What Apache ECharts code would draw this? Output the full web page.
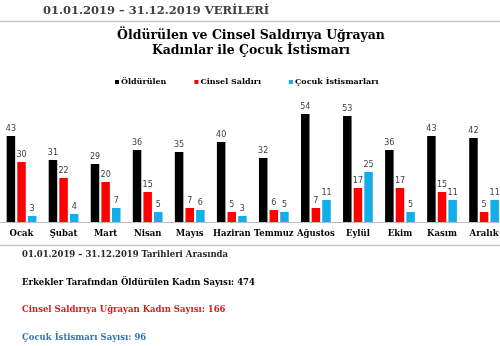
<!DOCTYPE html>
<html><head><meta charset="utf-8">
<script src="https://cdn.jsdelivr.net/npm/echarts@6/dist/echarts.min.js"></script>
<style>html,body{margin:0;padding:0;background:#fff;overflow:hidden;width:500px;height:346px}#c{width:506px;height:346px}</style>
</head><body><div id="c"></div>
<script>
const categories = ['Ocak','Şubat','Mart','Nisan','Mayıs','Haziran','Temmuz','Ağustos','Eylül','Ekim','Kasım','Aralık'];
const olduruler = [43,31,29,36,35,40,32,54,53,36,43,42];
const cinsel = [30,22,20,15,7,5,6,7,17,17,15,5];
const cocuk = [3,4,7,5,6,3,5,11,25,5,11,11];
const serif = '"DejaVu Serif", serif';
const chart = echarts.init(document.getElementById('c'));
const lbl = {show:true, position:'top', distance:3, color:'#404040', fontSize:8, fontFamily:'"DejaVu Sans", sans-serif'};
function txt(t, x, y, size, color, align){
  return {type:'text', x:x, y:y, style:{text:t, font:'bold '+size+'px '+serif, fill:color, textAlign:align||'left', textVerticalAlign:'middle'}};
}
chart.setOption({
  animation:false,
  legend:{top:73, left:110, icon:'rect', itemWidth:4, itemHeight:4, itemGap:28, textStyle:{fontFamily:serif, fontWeight:'bold', fontSize:8, color:'#000', padding:[0,0,0,-3]}, data:['Öldürülen','Cinsel Saldırı','Çocuk İstismarları']},
  graphic:[
    {type:'line', shape:{x1:0,y1:21.5,x2:506,y2:21.5}, style:{stroke:'#c8c8c8', lineWidth:1.5}},
    {type:'line', shape:{x1:0,y1:245.5,x2:506,y2:245.5}, style:{stroke:'#c8c8c8', lineWidth:1.5}},
    txt('01.01.2019 – 31.12.2019 VERİLERİ', 43, 11, 11.5, '#404040'),
    txt('Öldürülen ve Cinsel Saldırıya Uğrayan', 251, 36, 12.5, '#000', 'center'),
    txt('Kadınlar ile Çocuk İstismarı', 251, 51, 12.5, '#000', 'center'),
    txt('01.01.2019 – 31.12.2019 Tarihleri Arasında', 22, 255, 8.5, '#262626'),
    txt('Erkekler Tarafından Öldürülen Kadın Sayısı: 474', 22, 283, 8.5, '#000'),
    txt('Cinsel Saldırıya Uğrayan Kadın Sayısı: 166', 22, 310, 8.5, '#e0191f'),
    txt('Çocuk İstismarı Sayısı: 96', 22, 338, 8.5, '#2e75b6')
  ],
  grid:{left:0.5, width:504.6, top:114, bottom:124, containLabel:false},
  xAxis:{type:'category', data:categories, axisTick:{show:false}, axisLine:{lineStyle:{color:'#bfbfbf'}}, axisLabel:{margin:7, color:'#000', fontFamily:serif, fontWeight:'bold', fontSize:8.5, interval:0}},
  yAxis:{type:'value', min:0, max:54, show:false, splitLine:{show:false}},
  series:[
    {name:'Öldürülen', type:'bar', data:olduruler, itemStyle:{color:'#000'}, barWidth:8.5, barGap:'25%', label:lbl},
    {name:'Cinsel Saldırı', type:'bar', data:cinsel, itemStyle:{color:'#ff0000'}, barWidth:8.5, barGap:'25%', label:lbl},
    {name:'Çocuk İstismarları', type:'bar', data:cocuk, itemStyle:{color:'#12aeea'}, barWidth:8.5, barGap:'25%', label:lbl}
  ]
});
</script></body></html>
